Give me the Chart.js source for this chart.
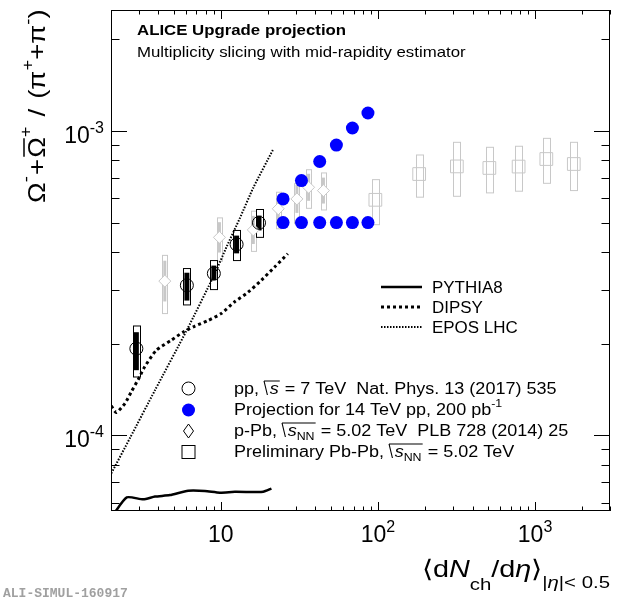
<!DOCTYPE html>
<html>
<head>
<meta charset="utf-8">
<script src="https://cdn.jsdelivr.net/npm/chart.js@4.4.1/dist/chart.umd.min.js"></script>
<style>
  html, body { margin: 0; padding: 0; background: #fff; }
  canvas { display: block; }
</style>
</head>
<body>
<canvas id="omegaChart" width="620" height="601"></canvas>
<script>
// axis ranges and tick labels
const xRange = [2, 3000];
const yRange = [5.63e-5, 2.5e-3];
const xTickValues = [10, 100, 1000];
const xTickExps = ["", "2", "3"];
const yTickValues = [1e-4, 1e-3];
const yTickExps = ["-4", "-3"];

// pp 7 TeV (Nat. Phys. 13 (2017) 535)
const ppX = [2.90, 6.08, 9.03, 12.6, 17.5];
const ppY = [1.925e-4, 3.11e-4, 3.40e-4, 4.24e-4, 4.99e-4];
const ppStatLo = [1.635e-4, 2.77e-4, 3.23e-4, 3.96e-4, 4.71e-4];
const ppStatHi = [2.18e-4, 3.42e-4, 3.61e-4, 4.53e-4, 5.27e-4];
const ppSysLo = [1.553e-4, 2.68e-4, 3.01e-4, 3.75e-4, 4.47e-4];
const ppSysHi = [2.285e-4, 3.53e-4, 3.75e-4, 4.71e-4, 5.52e-4];

// projection 14 TeV pp, 200 pb-1
const projX = [24.9, 32.6, 42.6, 54.4, 68.8, 86.4];
const projLowY = [5.0e-4, 5.0e-4, 5.0e-4, 5.0e-4, 5.0e-4, 5.0e-4];
const projHighY = [5.98e-4, 6.87e-4, 7.94e-4, 8.99e-4, 1.023e-3, 1.146e-3];

// p-Pb 5.02 TeV (PLB 728 (2014) 25)
const pPbX = [4.4, 9.8, 16.1, 23.2, 30.5, 36.2, 45.0];
const pPbY = [3.21e-4, 4.47e-4, 4.73e-4, 5.55e-4, 5.98e-4, 6.53e-4, 6.37e-4];
const pPbSysLo = [2.51e-4, 3.73e-4, 4.02e-4, 4.77e-4, 4.96e-4, 5.57e-4, 5.50e-4];
const pPbSysHi = [3.90e-4, 5.18e-4, 5.45e-4, 6.29e-4, 6.71e-4, 7.46e-4, 7.28e-4];

// preliminary Pb-Pb 5.02 TeV
const PbPbX = [96.3, 183, 318, 512, 786, 1180, 1765];
const PbPbY = [5.94e-4, 7.22e-4, 7.65e-4, 7.56e-4, 7.64e-4, 8.09e-4, 7.79e-4];
const PbPbSysLo = [4.92e-4, 6.06e-4, 6.10e-4, 6.26e-4, 6.34e-4, 6.73e-4, 6.37e-4];
const PbPbSysHi = [6.92e-4, 8.34e-4, 9.18e-4, 8.84e-4, 8.91e-4, 9.46e-4, 9.18e-4];

// MC curves
const pythiaX = [2.08, 2.52, 3.21, 3.81, 4.74, 6.20, 7.92, 9.87, 12.3, 16.1, 18.6, 21.0];
const pythiaY = [5.5e-5, 6.24e-5, 6.15e-5, 6.28e-5, 6.35e-5, 6.56e-5, 6.55e-5, 6.47e-5, 6.51e-5, 6.50e-5, 6.51e-5, 6.67e-5];
const dipsyX = [2.01, 2.16, 2.45, 2.69, 3.04, 3.27, 3.88, 4.83, 5.74, 6.81, 8.27, 10.05, 12.2, 14.9, 18.1, 22.0, 26.7];
const dipsyY = [1.248e-4, 1.187e-4, 1.27e-4, 1.387e-4, 1.553e-4, 1.675e-4, 1.90e-4, 2.05e-4, 2.18e-4, 2.28e-4, 2.38e-4, 2.51e-4, 2.74e-4, 2.95e-4, 3.23e-4, 3.57e-4, 3.95e-4];
const eposX = [2.01, 2.64, 3.81, 6.06, 9.17, 10.9, 13.2, 16.1, 21.5];
const eposY = [7.49e-5, 9.78e-5, 1.405e-4, 2.21e-4, 3.40e-4, 4.17e-4, 5.16e-4, 6.51e-4, 8.69e-4];

const SANS = '"Liberation Sans", Arial, sans-serif';
const GREY = "#c8c8c8";

const pts = (xs, ys) => xs.map((x, i) => ({ x: x, y: ys[i] }));

// draws a list of text runs left to right, returns end x
function drawRuns(ctx, x, y, runs, measureOnly) {
  for (const r of runs) {
    if (r.sqrt) {
      const x0 = x;
      const inner = drawRuns(ctx, x + 5, y, r.sqrt, measureOnly);
      if (!measureOnly) {
        ctx.save();
        ctx.lineWidth = 1;
        ctx.beginPath();
        ctx.moveTo(x0, y - r.h);
        ctx.lineTo(x0 + 3, y + 1);
        ctx.moveTo(x0, y - r.h);
        ctx.lineTo(inner + 1, y - r.h);
        ctx.stroke();
        ctx.restore();
      }
      x = inner + 1;
      continue;
    }
    ctx.font = r.f;
    const w = ctx.measureText(r.t).width;
    if (!measureOnly) {
      ctx.fillText(r.t, x, y + (r.dy || 0));
      if (r.bar) {
        ctx.save();
        ctx.lineWidth = 1.5;
        ctx.beginPath();
        ctx.moveTo(x + 1, y - r.bar);
        ctx.lineTo(x + w - 1, y - r.bar);
        ctx.stroke();
        ctx.restore();
      }
    }
    x += w + (r.sp || 0);
  }
  return x;
}

// same, but stretched horizontally a bit (ROOT fonts run wider)
function drawScaled(ctx, x, y, sx, runs, align) {
  const w = drawRuns(ctx, 0, 0, runs, true) * sx;
  const x0 = align === "right" ? x - w : align === "center" ? x - w / 2 : x;
  ctx.save();
  ctx.translate(x0, y);
  ctx.scale(sx, 1);
  drawRuns(ctx, 0, 0, runs);
  ctx.restore();
  return w;
}

function boxV(ctx, xs, ys, x, lo, hi, halfW) {
  const px = xs.getPixelForValue(x);
  const y1 = ys.getPixelForValue(hi), y2 = ys.getPixelForValue(lo);
  ctx.strokeRect(Math.round(px - halfW) + 0.5, y1, halfW * 2, y2 - y1);
}

const errorBars = {
  id: "errorBars",
  beforeDatasetsDraw(chart) {
    const ctx = chart.ctx, xs = chart.scales.x, ys = chart.scales.y;
    const a = chart.chartArea;
    ctx.save();
    ctx.beginPath();
    ctx.rect(a.left, a.top, a.right - a.left, a.bottom - a.top);
    ctx.clip();
    // Pb-Pb sys boxes
    ctx.strokeStyle = GREY;
    ctx.lineWidth = 1;
    PbPbX.forEach((x, i) => boxV(ctx, xs, ys, x, PbPbSysLo[i], PbPbSysHi[i], 3.5));
    // p-Pb boxes + stat bars
    pPbX.forEach((x, i) => {
      boxV(ctx, xs, ys, x, pPbSysLo[i], pPbSysHi[i], 2.5);
      const px = xs.getPixelForValue(x);
      const yc = ys.getPixelForValue(pPbY[i]);
      const h = (ys.getPixelForValue(pPbSysLo[i]) - ys.getPixelForValue(pPbSysHi[i])) * 0.35;
      ctx.fillStyle = GREY;
      ctx.fillRect(px - 1.5, yc - h, 3, 2 * h);
    });
    // pp sys boxes and stat bars
    ctx.strokeStyle = "#000";
    ppX.forEach((x, i) => {
      boxV(ctx, xs, ys, x, ppSysLo[i], ppSysHi[i], 3.5);
      const px = xs.getPixelForValue(x);
      const y1 = ys.getPixelForValue(ppStatHi[i]), y2 = ys.getPixelForValue(ppStatLo[i]);
      ctx.fillStyle = "#000";
      ctx.fillRect(px - 2.5, y1, 5, y2 - y1);
    });
    ctx.restore();
  }
};

const frameAndText = {
  id: "frameAndText",
  afterDraw(chart) {
    const ctx = chart.ctx, xs = chart.scales.x, ys = chart.scales.y;
    const { left, right, top, bottom } = chart.chartArea;
    ctx.save();
    ctx.strokeStyle = "#000";
    ctx.fillStyle = "#000";
    ctx.lineWidth = 1;
    ctx.strokeRect(left + 0.5, top + 0.5, right - left - 1, bottom - top - 1);

    // x ticks, bottom and top, pointing inwards
    ctx.beginPath();
    for (let d = 1; d <= 1000; d *= 10) {
      for (let m = 1; m <= 9; m++) {
        const v = m * d;
        if (v < xRange[0] || v > xRange[1]) continue;
        const px = Math.round(xs.getPixelForValue(v)) + 0.5;
        const len = m === 1 ? 9 : 4.5;
        ctx.moveTo(px, bottom); ctx.lineTo(px, bottom - len);
        ctx.moveTo(px, top); ctx.lineTo(px, top + len);
      }
    }
    // y ticks, left and right
    for (let d = 1e-5; d <= 1e-3; d *= 10) {
      for (let m = 1; m <= 9; m++) {
        const v = m * d;
        if (v < yRange[0] || v > yRange[1]) continue;
        const py = Math.round(ys.getPixelForValue(v)) + 0.5;
        const len = m === 1 ? 16 : 8.5;
        ctx.moveTo(left, py); ctx.lineTo(left + len, py);
        ctx.moveTo(right, py); ctx.lineTo(right - len, py);
      }
    }
    ctx.stroke();

    // tick labels
    const fBig = "23px " + SANS, fSup = "16px " + SANS;
    xTickValues.forEach((v, i) => {
      const runs = [{ t: "10", f: fBig }];
      if (xTickExps[i]) runs.push({ t: xTickExps[i], f: fSup, dy: -10 });
      drawScaled(ctx, xs.getPixelForValue(v), 542, 1, runs, "center");
    });
    yTickValues.forEach((v, i) => {
      const runs = [{ t: "10", f: fBig }, { t: yTickExps[i], f: fSup, dy: -10 }];
      drawScaled(ctx, 104, ys.getPixelForValue(v) + 12, 1, runs, "right");
    });

    // y title, rotated
    const fT = "24px " + SANS, fTs = "16px " + SANS;
    ctx.save();
    ctx.translate(45, 203);
    ctx.rotate(-Math.PI / 2);
    drawScaled(ctx, 0, 0, 1.15, [
      { t: "\u03A9", f: fT }, { t: "-", f: fTs, dy: -14, sp: 1 },
      { t: "+", f: fT, sp: 1 },
      { t: "\u03A9", f: fT, bar: 21 }, { t: "+", f: fTs, dy: -14, sp: 2 },
      { t: " / ", f: fT, sp: 2 },
      { t: "(\u03C0", f: fT }, { t: "+", f: fTs, dy: -12 },
      { t: "+\u03C0", f: fT }, { t: "-", f: fTs, dy: -12 },
      { t: ")", f: fT }
    ]);
    ctx.restore();

    // x title
    const fX = "24px " + SANS, fXi = "italic 24px " + SANS;
    const fXs = "17px " + SANS, fXsi = "italic 17px " + SANS;
    drawScaled(ctx, 610, 577, 1.2, [
      { t: "\u27E8d", f: fX }, { t: "N", f: fXi },
      { t: "ch", f: fXs, dy: 13 }, { t: "/d", f: fX }, { t: "\u03B7", f: fXi },
      { t: "\u27E9", f: fX }, { t: "|", f: fXs, dy: 11 }, { t: "\u03B7", f: fXsi, dy: 11 },
      { t: "|< 0.5", f: fXs, dy: 11 }
    ], "right");

    // header
    drawScaled(ctx, 137, 35, 1.12, [{ t: "ALICE Upgrade projection", f: "bold 15px " + SANS }]);
    drawScaled(ctx, 137, 57, 1.12, [{ t: "Multiplicity slicing with mid-rapidity estimator", f: "15px " + SANS }]);

    // model legend
    const fL = "16px " + SANS, fLi = "italic 16px " + SANS, fLs = "11px " + SANS;
    const modelRows = [
      { y: 287, name: "PYTHIA8", w: 2.5, dash: [] },
      { y: 307, name: "DIPSY", w: 3, dash: [3, 3] },
      { y: 327, name: "EPOS LHC", w: 2, dash: [1.5, 1.5] }
    ];
    modelRows.forEach(r => {
      ctx.save();
      ctx.lineWidth = r.w;
      ctx.setLineDash(r.dash);
      ctx.beginPath();
      ctx.moveTo(381, r.y); ctx.lineTo(422, r.y);
      ctx.stroke();
      ctx.restore();
      drawScaled(ctx, 432, r.y + 6, 1.06, [{ t: r.name, f: fL }]);
    });

    // data legend
    const mx = 188.5;
    ctx.lineWidth = 1;
    ctx.beginPath(); ctx.arc(mx, 388.5, 6.5, 0, 2 * Math.PI); ctx.stroke();
    ctx.fillStyle = "#0000ff";
    ctx.beginPath(); ctx.arc(mx, 410, 6.5, 0, 2 * Math.PI); ctx.fill();
    ctx.fillStyle = "#000";
    ctx.beginPath();
    ctx.moveTo(mx, 424); ctx.lineTo(mx + 5, 431); ctx.lineTo(mx, 438); ctx.lineTo(mx - 5, 431); ctx.closePath();
    ctx.stroke();
    ctx.strokeRect(mx - 6.5, 445.5, 13, 13);

    const lx = 234, lsx = 1.125;
    drawScaled(ctx, lx, 394, lsx, [
      { t: "pp, ", f: fL },
      { sqrt: [{ t: "s", f: fLi }], h: 13 },
      { t: " = 7 TeV  Nat. Phys. 13 (2017) 535", f: fL }
    ]);
    drawScaled(ctx, lx, 415, lsx, [
      { t: "Projection for 14 TeV pp, 200 pb", f: fL },
      { t: "-1", f: fLs, dy: -8 }
    ]);
    drawScaled(ctx, lx, 436, lsx, [
      { t: "p-Pb, ", f: fL },
      { sqrt: [{ t: "s", f: fLi }, { t: "NN", f: fLs, dy: 4 }], h: 13 },
      { t: " = 5.02 TeV  PLB 728 (2014) 25", f: fL }
    ]);
    drawScaled(ctx, lx, 457, lsx, [
      { t: "Preliminary Pb-Pb, ", f: fL },
      { sqrt: [{ t: "s", f: fLi }, { t: "NN", f: fLs, dy: 4 }], h: 13 },
      { t: " = 5.02 TeV", f: fL }
    ]);

    // figure id
    ctx.fillStyle = "#a0a0a0";
    ctx.font = "bold 13px \"Liberation Mono\", monospace";
    ctx.fillText("ALI-SIMUL-160917", 3, 597);
    ctx.restore();
  }
};

new Chart(document.getElementById("omegaChart"), {
  type: "scatter",
  data: {
    datasets: [
      {
        label: "Projection for 14 TeV pp, 200 pb-1",
        data: pts(projX, projLowY).concat(pts(projX, projHighY)),
        pointStyle: "circle", pointRadius: 6.5, pointHoverRadius: 6.5,
        backgroundColor: "#0000ff", borderColor: "#0000ff", borderWidth: 0, order: 0
      },
      {
        label: "pp 7 TeV",
        data: pts(ppX, ppY),
        pointStyle: "circle", pointRadius: 6.5, pointHoverRadius: 6.5,
        backgroundColor: "rgba(0,0,0,0)", borderColor: "#000", borderWidth: 1, order: 1
      },
      {
        label: "PYTHIA8", type: "line",
        data: pts(pythiaX, pythiaY),
        borderColor: "#000", borderWidth: 2.5, pointRadius: 0, tension: 0.2, fill: false, order: 2
      },
      {
        label: "DIPSY", type: "line",
        data: pts(dipsyX, dipsyY),
        borderColor: "#000", borderWidth: 3, borderDash: [3, 3], pointRadius: 0, tension: 0.2, fill: false, order: 2
      },
      {
        label: "EPOS LHC", type: "line",
        data: pts(eposX, eposY),
        borderColor: "#000", borderWidth: 2, borderDash: [1.5, 1.5], pointRadius: 0, tension: 0.2, fill: false, order: 2
      },
      {
        label: "p-Pb 5.02 TeV",
        data: pts(pPbX, pPbY),
        pointStyle: "rectRot", pointRadius: 6, pointHoverRadius: 6,
        backgroundColor: "#fff", borderColor: GREY, borderWidth: 1, order: 3
      },
      {
        label: "Pb-Pb 5.02 TeV",
        data: pts(PbPbX, PbPbY),
        pointStyle: "rect", pointRadius: 9, pointHoverRadius: 9,
        backgroundColor: "rgba(255,255,255,0)", borderColor: GREY, borderWidth: 1, order: 4
      }
    ]
  },
  options: {
    responsive: false,
    animation: false,
    events: [],
    layout: { padding: { left: 111, right: 9, top: 9, bottom: 90 } },
    plugins: { legend: { display: false }, tooltip: { enabled: false } },
    scales: {
      x: { type: "logarithmic", min: xRange[0], max: xRange[1], display: false },
      y: { type: "logarithmic", min: yRange[0], max: yRange[1], display: false }
    }
  },
  plugins: [errorBars, frameAndText]
});
</script>
</body>
</html>
